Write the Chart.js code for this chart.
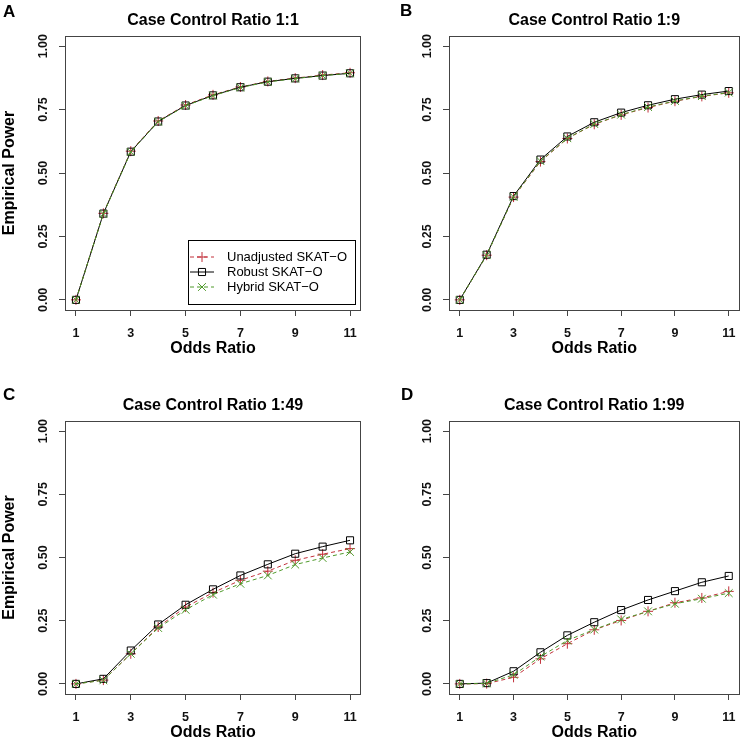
<!DOCTYPE html>
<html>
<head>
<meta charset="utf-8">
<script src="https://cdn.jsdelivr.net/npm/chart.js@4.4.1/dist/chart.umd.min.js"></script>
<style>
  body { margin: 0; background: #fff; }
  #wrap { position: relative; width: 746px; height: 745px; overflow: hidden; }
  .panel { position: absolute; }
  .letter { position: absolute; font: bold 17px "Liberation Sans", Arial, sans-serif; color: #000; }
</style>
</head>
<body>
<div id="wrap">
  <canvas id="chartA" class="panel" width="373" height="361" style="left:0;top:0"></canvas>
  <canvas id="chartB" class="panel" width="373" height="361" style="left:373px;top:0"></canvas>
  <canvas id="chartC" class="panel" width="373" height="373" style="left:0;top:372px"></canvas>
  <canvas id="chartD" class="panel" width="373" height="373" style="left:373px;top:372px"></canvas>
  <div class="letter" style="left:3px;top:2px">A</div>
  <div class="letter" style="left:400px;top:1px">B</div>
  <div class="letter" style="left:3px;top:385px">C</div>
  <div class="letter" style="left:401px;top:385px">D</div>
</div>
<script>
const oddsRatios = [1, 2, 3, 4, 5, 6, 7, 8, 9, 10, 11];
const xTicks = [1, 3, 5, 7, 9, 11];
const yTicks = [0, 0.25, 0.5, 0.75, 1];
const seriesNames = ['Unadjusted SKAT\u2212O', 'Robust SKAT\u2212O', 'Hybrid SKAT\u2212O'];

// Case control 1:1
const unadjA  = [0, 0.341, 0.586, 0.705, 0.768, 0.808, 0.839, 0.861, 0.874, 0.886, 0.895];
const robustA = [0, 0.340, 0.584, 0.703, 0.766, 0.806, 0.838, 0.860, 0.873, 0.884, 0.893];
const hybridA = [0, 0.339, 0.583, 0.702, 0.765, 0.805, 0.837, 0.859, 0.872, 0.884, 0.893];

// Case control 1:9
const unadjB  = [0, 0.176, 0.405, 0.545, 0.636, 0.692, 0.729, 0.758, 0.783, 0.802, 0.816];
const robustB = [0, 0.178, 0.409, 0.553, 0.644, 0.700, 0.738, 0.767, 0.791, 0.809, 0.823];
const hybridB = [0, 0.176, 0.406, 0.547, 0.637, 0.693, 0.730, 0.760, 0.784, 0.803, 0.817];

// Case control 1:49
const unadjC  = [0, 0.015, 0.119, 0.225, 0.304, 0.361, 0.410, 0.446, 0.489, 0.513, 0.535];
const robustC = [0, 0.020, 0.132, 0.235, 0.313, 0.374, 0.429, 0.473, 0.515, 0.543, 0.568];
const hybridC = [0, 0.014, 0.119, 0.221, 0.293, 0.353, 0.396, 0.429, 0.472, 0.498, 0.522];

// Case control 1:99
const unadjD  = [0, 0.001, 0.026, 0.099, 0.159, 0.214, 0.251, 0.287, 0.321, 0.340, 0.366];
const robustD = [0, 0.003, 0.050, 0.125, 0.192, 0.244, 0.292, 0.332, 0.367, 0.402, 0.427];
const hybridD = [0, 0.002, 0.036, 0.108, 0.172, 0.215, 0.255, 0.287, 0.317, 0.337, 0.359];

const RED = '#c2303a';
const GREEN = '#4f9a2b';
const AXIS = '#444';
const FONT = '"Liberation Sans", Arial, Helvetica, sans-serif';

function makeDatasets(unadj, robust, hybrid) {
    const pts = v => v.map((y, i) => ({ x: oddsRatios[i], y: y }));
    return [
        {
            label: seriesNames[0], data: pts(unadj), order: 3,
            borderColor: RED, borderWidth: 1, borderDash: [4, 3],
            pointStyle: 'cross', pointRadius: 5, pointBorderColor: RED,
            pointBackgroundColor: 'rgba(0,0,0,0)', pointBorderWidth: 1
        },
        {
            label: seriesNames[1], data: pts(robust), order: 2,
            borderColor: '#000', borderWidth: 1,
            pointStyle: 'rect', pointRadius: 5, pointBorderColor: '#000',
            pointBackgroundColor: 'rgba(0,0,0,0)', pointBorderWidth: 1
        },
        {
            label: seriesNames[2], data: pts(hybrid), order: 1,
            borderColor: GREEN, borderWidth: 1, borderDash: [4, 3],
            pointStyle: 'crossRot', pointRadius: 5.5, pointBorderColor: GREEN,
            pointBackgroundColor: 'rgba(0,0,0,0)', pointBorderWidth: 1
        }
    ];
}

// box around plot area, title centred on it, optional legend
const panelDecor = {
    id: 'panelDecor',
    afterDraw(chart, args, opts) {
        const ctx = chart.ctx;
        const a = chart.chartArea;
        ctx.save();
        ctx.strokeStyle = AXIS;
        ctx.lineWidth = 1;
        ctx.strokeRect(Math.round(a.left) + 0.5, Math.round(a.top) + 0.5,
            Math.round(a.right - a.left) - 1, Math.round(a.bottom - a.top));

        ctx.fillStyle = '#000';
        ctx.font = 'bold 16px ' + FONT;
        ctx.textAlign = 'center';
        ctx.textBaseline = 'middle';
        ctx.fillText(opts.title, (a.left + a.right) / 2, a.top - 15);

        if (opts.legend) {
            const w = 167, h = 64;
            const lx = a.right - 6 - w, ly = a.bottom - 6 - h;
            ctx.fillStyle = '#fff';
            ctx.fillRect(lx, ly, w, h);
            ctx.strokeStyle = '#000';
            ctx.strokeRect(Math.round(lx) + 0.5, Math.round(ly) + 0.5, w, h);
            ctx.font = '13px ' + FONT;
            ctx.textAlign = 'left';
            chart.data.datasets.forEach((ds, i) => {
                const y = ly + 17 + i * 15;
                ctx.strokeStyle = ds.borderColor;
                ctx.lineWidth = 1;
                ctx.setLineDash(ds.borderDash || []);
                ctx.beginPath();
                ctx.moveTo(lx + 2, y);
                ctx.lineTo(lx + 26, y);
                ctx.stroke();
                ctx.setLineDash([]);
                ctx.fillStyle = 'rgba(0,0,0,0)';
                Chart.helpers.drawPoint(ctx, {
                    pointStyle: ds.pointStyle, radius: ds.pointRadius,
                    borderWidth: 1, rotation: 0
                }, lx + 14, y);
                ctx.fillStyle = '#000';
                ctx.fillText(ds.label, lx + 39, y);
            });
        }
        ctx.restore();
    }
};

function makeChart(id, title, unadj, robust, hybrid, o) {
    const ctx = document.getElementById(id).getContext('2d');
    return new Chart(ctx, {
        type: 'line',
        data: { datasets: makeDatasets(unadj, robust, hybrid) },
        plugins: [panelDecor],
        options: {
            responsive: false,
            animation: false,
            layout: { padding: { top: o.top, right: o.right, left: 0, bottom: 0 } },
            plugins: {
                legend: { display: false },
                tooltip: { enabled: false },
                panelDecor: { title: title, legend: !!o.legend }
            },
            scales: {
                x: {
                    type: 'linear', min: 0.6, max: 11.4,
                    afterBuildTicks: s => { s.ticks = xTicks.map(v => ({ value: v })); },
                    afterFit: s => { s.height = 51; },
                    grid: { drawOnChartArea: false, tickLength: 6, color: AXIS, tickColor: AXIS },
                    border: { display: false },
                    ticks: {
                        color: '#111', padding: 10, maxRotation: 0,
                        font: { family: FONT, size: 12.5, weight: 'bold' },
                        callback: v => String(v)
                    },
                    title: {
                        display: true, text: 'Odds Ratio', color: '#000',
                        font: { family: FONT, size: 16, weight: 'bold' },
                        padding: { top: 0, bottom: 3 }
                    }
                },
                y: {
                    type: 'linear', min: -0.04, max: 1.04,
                    afterBuildTicks: s => { s.ticks = yTicks.map(v => ({ value: v })); },
                    afterFit: s => { s.width = o.yWidth; },
                    grid: { drawOnChartArea: false, tickLength: 6, color: AXIS, tickColor: AXIS },
                    border: { display: false },
                    ticks: {
                        color: '#111', padding: 3, minRotation: 90, maxRotation: 90,
                        crossAlign: 'center',
                        font: { family: FONT, size: 12.5, weight: 'bold' },
                        callback: v => Number(v).toFixed(2)
                    },
                    title: {
                        display: !!o.yTitle, text: 'Empirical Power', color: '#000',
                        font: { family: FONT, size: 16, weight: 'bold' },
                        padding: 0
                    }
                }
            }
        }
    });
}

makeChart('chartA', 'Case Control Ratio 1:1', unadjA, robustA, hybridA,
    { top: 36, right: 12, yWidth: 65, yTitle: true, legend: true });
makeChart('chartB', 'Case Control Ratio 1:9', unadjB, robustB, hybridB,
    { top: 36, right: 1, yWidth: 76 });
makeChart('chartC', 'Case Control Ratio 1:49', unadjC, robustC, hybridC,
    { top: 49, right: 12, yWidth: 65, yTitle: true });
makeChart('chartD', 'Case Control Ratio 1:99', unadjD, robustD, hybridD,
    { top: 49, right: 1, yWidth: 76 });
</script>
</body>
</html>
